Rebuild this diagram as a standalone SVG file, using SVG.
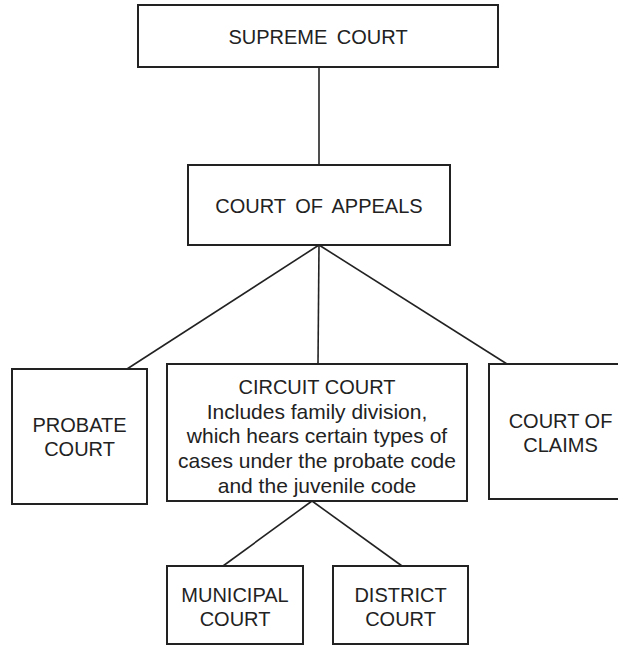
<svg xmlns="http://www.w3.org/2000/svg" width="618" height="645" viewBox="0 0 618 645">
<style>
.box{fill:#fff;stroke:#222;stroke-width:2}
.ln{stroke:#222;stroke-width:1.6;fill:none}
text{font-family:"Liberation Sans",Arial,Helvetica,sans-serif;font-size:20px;fill:#222;text-anchor:middle}
.cap{word-spacing:4px}
.small{font-size:21px}
</style>
<rect width="618" height="645" fill="#fff"/>
<g id="connectors">
<line class="ln" x1="319" y1="67" x2="319" y2="165"/>
<line class="ln" x1="319" y1="245" x2="127" y2="369"/>
<line class="ln" x1="319" y1="245" x2="318" y2="364"/>
<line class="ln" x1="319" y1="245" x2="507" y2="364"/>
<line class="ln" x1="312" y1="501" x2="223" y2="566"/>
<line class="ln" x1="312" y1="501" x2="402" y2="566"/>
</g>
<g id="supreme-court">
<rect class="box" x="138" y="5" width="360" height="62"/>
<text class="cap" x="318" y="44">SUPREME COURT</text>
</g>
<g id="court-of-appeals">
<rect class="box" x="188" y="165" width="262" height="80"/>
<text class="cap" x="319" y="213">COURT OF APPEALS</text>
</g>
<g id="probate-court">
<rect class="box" x="12" y="369" width="135" height="135"/>
<text x="79.5" y="432">PROBATE</text>
<text x="79.5" y="456">COURT</text>
</g>
<g id="circuit-court">
<rect class="box" x="167" y="364" width="300" height="137"/>
<text x="317" y="394">CIRCUIT COURT</text>
<text class="small" x="317" y="419">Includes family division,</text>
<text class="small" x="317" y="443">which hears certain types of</text>
<text class="small" x="317" y="468">cases under the probate code</text>
<text class="small" x="317" y="493">and the juvenile code</text>
</g>
<g id="court-of-claims">
<rect class="box" x="489" y="364" width="145" height="135"/>
<text x="560.5" y="428">COURT OF</text>
<text x="560.5" y="452">CLAIMS</text>
</g>
<g id="municipal-court">
<rect class="box" x="167" y="566" width="136" height="78"/>
<text x="235" y="602">MUNICIPAL</text>
<text x="235" y="626">COURT</text>
</g>
<g id="district-court">
<rect class="box" x="333" y="566" width="135" height="78"/>
<text x="400.5" y="602">DISTRICT</text>
<text x="400.5" y="626">COURT</text>
</g>
</svg>
